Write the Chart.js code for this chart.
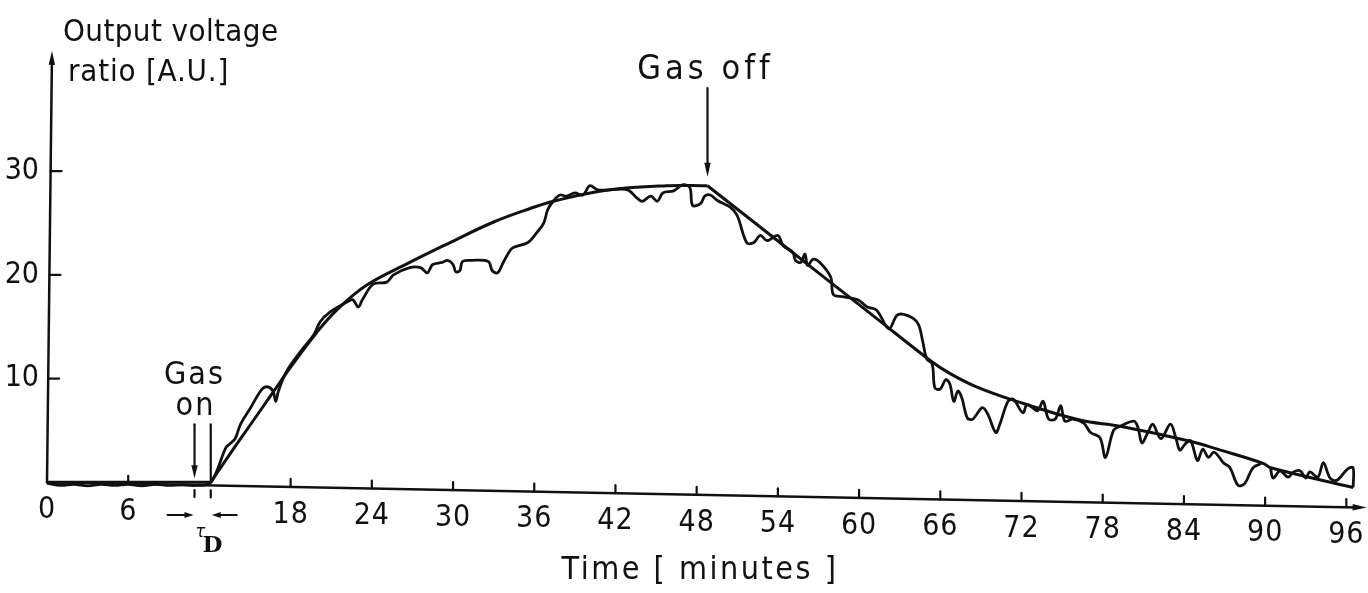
<!DOCTYPE html>
<html>
<head>
<meta charset="utf-8">
<title>Output voltage ratio vs time</title>
<script src="https://cdn.jsdelivr.net/npm/chart.js@4.4.1/dist/chart.umd.min.js"></script>
<style>
  html, body { margin: 0; padding: 0; background: #fff; }
  #wrap { width: 1368px; height: 593px; position: relative; }
</style>
</head>
<body>
<div id="wrap"><canvas id="chart"></canvas></div>
<script>
// time axis ticks (minutes); 12 is left unlabelled for the delay marker
const xTickValues = [0, 6, 18, 24, 30, 36, 42, 48, 54, 60, 66, 72, 78, 84, 90, 96];
const yTickValues = [10, 20, 30];

const GAS_ON_TIME = 10.9;
const RESPONSE_START = 12.1;
const GAS_OFF_TIME = 48.8;

// smooth fitted response
const fitTime = [0, 12.1, 13.5, 15.0, 16.5, 18.0, 19.9, 21.4, 23.6, 26.8, 29.6, 33.0, 35.7, 37.7, 41.6, 45.8, 48.8,
  52.9, 57.0, 61.1, 65.3, 66.7, 68.5, 71.2, 76.3, 79.3, 84.3, 86.7, 89.9, 90.4, 96.5];
const fitValue = [0, 0, 2.7, 5.5, 8.3, 11.1, 14.4, 16.6, 19.0, 21.2, 23.0, 25.1, 26.4, 27.2, 28.2, 28.6, 28.6,
  24.4, 20.2, 16.0, 11.7, 10.5, 9.3, 8.0, 6.0, 5.4, 4.0, 3.1, 1.8, 1.4, -0.5];

// measured trace (null = pen lift)
const traceTime = [0, 1, 2, 3, 4, 5, 6, 7, 8, 9, 10, 11, 12.1,
  13.2, 13.5, 13.9, 14.3, 15.0, 15.9, 16.3, 16.7, 16.9, 17.1, 17.7, 18.9, 19.7, 20.2, 20.9, 22.2, 22.6, 23.0, 23.3, 24.1, 25.1,
  25.6, 26.8, 27.6, 28.1, 28.5, 29.2, 29.6, 30.0, 30.2, 30.5, 30.7, 31.3, 32.6, 32.9, 33.3, 33.6, 34.0, 34.4, 35.5, 36.2, 36.7,
  37.0, 37.4, 37.9, 38.4, 39.0, 39.6, 40.1, 40.7, 41.6, 42.9, 43.6, 44.0, 44.6, 45.1, 45.5, 46.3, 47.0, 47.5, 47.7, 48.3, 48.6,
  49.0, 49.5, 50.5, 51.0, 51.7, 52.2, 52.7, 53.2, 54.0, 54.4, 55.1, 55.3, 55.7, 56.0, 56.2, 56.6, 57.1, 57.9, 58.1, 58.8, 59.9,
  60.6, 61.3, 62.2, 62.8, 63.3, 64.0, 64.4, 64.7, 65.0, 65.4, 65.6, 66.0, 66.4, 66.7, 67.0, 67.3, 67.6, 68.0, 68.4, 69.1, 69.5,
  70.1, 70.4, 71.0, 71.4, 72.1, 72.4, 72.8, 73.2, 73.6, 74.0, 74.5, 74.9, 75.2, 75.8, 76.6, 77.1, 77.8, 78.2, 78.8, 79.3, 80.3,
  80.6, 80.9, 81.3, 81.7, 82.3, 83.0, 83.4, 83.7, 84.1, 84.5, 85.0, 85.4, 85.8, 86.2, 86.5, 86.9, 87.4, 88.0, 88.5, 89.1, 89.7,
  90.0,
  90.4, 90.6, 91.1, 91.7, 92.1, 92.6, 93.0, 93.3, 93.9, 94.3, 94.8, 95.3, 96.1, 96.5, 96.5];
const traceValue = [-0.1, -0.3, -0.2, -0.35, -0.2, -0.3, -0.2, -0.35, -0.2, -0.3, -0.25, -0.3, 0,
  3.3, 3.7, 4.2, 5.6, 7.1, 9.0, 9.2, 8.8, 7.8, 8.8, 10.7, 12.9, 14.2, 15.5, 16.4, 17.4, 17.6, 16.9, 17.6, 19.1, 19.3,
  20.0, 20.7, 20.7, 20.2, 21.0, 21.2, 21.4, 21.0, 20.3, 20.4, 21.3, 21.4, 21.3, 20.4, 20.2, 20.9, 21.9, 22.6, 23.1, 24.1, 25.0,
  26.3, 27.1, 27.7, 27.6, 27.9, 27.7, 28.6, 28.2, 28.2, 28.2, 27.4, 27.1, 27.6, 27.1, 27.9, 28.1, 28.7, 28.4, 26.7, 26.9, 27.6,
  27.7, 27.2, 26.5, 25.7, 23.1, 23.1, 23.8, 23.3, 23.8, 22.8, 22.2, 21.4, 21.2, 22.0, 20.9, 21.5, 21.2, 19.8, 18.1, 17.9, 17.6,
  16.9, 16.6, 14.8, 16.1, 16.2, 15.8, 15.2, 13.6, 11.9, 11.4, 9.1, 9.0, 9.9, 9.5, 7.8, 8.8, 8.1, 6.2, 6.1, 7.2, 6.6,
  4.8, 5.6, 7.8, 8.0, 6.7, 7.5, 7.2, 6.9, 7.8, 6.1, 6.1, 7.4, 5.9, 6.1, 5.7, 4.8, 4.3, 2.4, 5.0, 5.4, 5.9,
  5.3, 3.8, 4.7, 5.6, 4.2, 5.6, 4.3, 3.1, 3.7, 4.0, 2.1, 3.2, 2.4, 2.9, 2.6, 1.9, 1.4, -0.3, -0.1, 1.4, 1.8,
  null,
  1.3, 0.4, 1.1, 0.5, 1.0, 1.1, 0.4, 1.0, 0.5, 1.9, 0.4, 0.2, 1.3, 1.4, -0.5];

const INK = '#111';
const FONT = '"DejaVu Sans Condensed", "DejaVu Sans", sans-serif';
const X_AXIS_DRIFT = -2.4 / 96; // the time axis sinks a little towards the right

function points(times, values) {
  return times.map((t, i) => ({ x: t, y: values[i] }));
}

const fitPoints = points(fitTime, fitValue);
const riseAt = fitTime.indexOf(RESPONSE_START);
const offAt = fitTime.indexOf(GAS_OFF_TIME);

function curve(data, tension, width) {
  return {
    data: data,
    borderColor: INK,
    borderWidth: width,
    pointRadius: 0,
    tension: tension,
    fill: false,
    spanGaps: false,
  };
}

function arrowHead(ctx, tx, ty, angle, len, half) {
  ctx.save();
  ctx.translate(tx, ty);
  ctx.rotate(angle);
  ctx.beginPath();
  ctx.moveTo(0, 0);
  ctx.lineTo(-len, -half);
  ctx.lineTo(-len, half);
  ctx.closePath();
  ctx.fill();
  ctx.restore();
}

function segment(ctx, x1, y1, x2, y2) {
  ctx.beginPath();
  ctx.moveTo(x1, y1);
  ctx.lineTo(x2, y2);
  ctx.stroke();
}

function label(ctx, text, x, y, size, spacing) {
  ctx.font = size + 'px ' + FONT;
  ctx.letterSpacing = (spacing || 0) + 'px';
  ctx.fillText(text, x, y);
  ctx.letterSpacing = '0px';
}

const axesPlugin = {
  id: 'handAxes',
  afterDatasetsDraw(chart) {
    const { ctx, scales: { x, y } } = chart;
    const px = t => x.getPixelForValue(t);
    const py = v => y.getPixelForValue(v);
    const axisAt = t => py(X_AXIS_DRIFT * t);

    ctx.save();
    ctx.strokeStyle = INK;
    ctx.fillStyle = INK;
    ctx.lineWidth = 2.5;
    ctx.lineCap = 'round';

    // time axis with arrow
    const tEnd = x.max - 0.1;
    segment(ctx, px(0), axisAt(0), px(tEnd - 0.7), axisAt(tEnd - 0.7));
    arrowHead(ctx, px(tEnd), axisAt(tEnd), Math.atan2(axisAt(tEnd) - axisAt(0), px(tEnd) - px(0)), 14, 3.2);

    // value axis, leaning slightly to the right, with arrow
    const yTop = 41.6;
    const lean = v => px(0) + 5 * v / yTop;
    segment(ctx, lean(0), py(0), lean(yTop - 1.1), py(yTop - 1.1));
    arrowHead(ctx, lean(yTop), py(yTop), -Math.PI / 2 + 0.012, 14, 3.2);

    ctx.lineWidth = 2.2;
    yTickValues.forEach(v => segment(ctx, lean(v), py(v), lean(v) + 11, py(v)));

    // time ticks and labels
    ctx.textAlign = 'center';
    ctx.textBaseline = 'middle';
    xTickValues.forEach(t => {
      if (t > 0) segment(ctx, px(t), axisAt(t), px(t), axisAt(t) - 8);
      label(ctx, String(t), px(t), axisAt(t) + 28, 30, 1);
    });

    // delay time markers
    const aOn = axisAt(GAS_ON_TIME);
    [GAS_ON_TIME, RESPONSE_START].forEach(t => segment(ctx, px(t), axisAt(t) + 5, px(t), axisAt(t) + 12));
    ctx.lineWidth = 2;
    segment(ctx, px(GAS_ON_TIME) - 27, aOn + 30, px(GAS_ON_TIME) - 8, aOn + 30);
    arrowHead(ctx, px(GAS_ON_TIME) - 1, aOn + 30, 0, 9, 3);
    segment(ctx, px(RESPONSE_START) + 26, aOn + 30, px(RESPONSE_START) + 8, aOn + 30);
    arrowHead(ctx, px(RESPONSE_START) + 1, aOn + 30, Math.PI, 9, 3);
    ctx.textAlign = 'left';
    ctx.textBaseline = 'alphabetic';
    ctx.font = 'italic 18px ' + FONT;
    ctx.fillText('\u03c4', px(GAS_ON_TIME) + 1, aOn + 52);
    ctx.font = 'bold 23px "DejaVu Serif", serif';
    ctx.fillText('D', px(GAS_ON_TIME) + 8, aOn + 67);

    // gas on / gas off annotations
    ctx.lineWidth = 2.2;
    ctx.textAlign = 'center';
    label(ctx, 'Gas', px(GAS_ON_TIME), py(0) - 98, 32, 2);
    label(ctx, 'on', px(GAS_ON_TIME) + 1, py(0) - 67, 32, 2);
    segment(ctx, px(GAS_ON_TIME), py(0) - 58, px(GAS_ON_TIME), py(0) - 14);
    arrowHead(ctx, px(GAS_ON_TIME), py(0) - 4, Math.PI / 2, 13, 3.2);
    segment(ctx, px(RESPONSE_START), py(0) - 58, px(RESPONSE_START), py(0));

    const peak = fitValue[offAt];
    label(ctx, 'Gas off', px(GAS_OFF_TIME) - 2, 79, 34, 4);
    segment(ctx, px(GAS_OFF_TIME), 88, px(GAS_OFF_TIME), py(peak) - 20);
    arrowHead(ctx, px(GAS_OFF_TIME), py(peak) - 9, Math.PI / 2, 14, 3.2);

    // axis titles
    ctx.textAlign = 'left';
    label(ctx, 'Output voltage', 63, 41, 31, 0.4);
    label(ctx, 'ratio [A.U.]', 68, 81, 31, 0.8);
    ctx.textAlign = 'center';
    label(ctx, 'Time [ minutes ]', 700, 579, 32, 2.5);
    ctx.restore();
  }
};

new Chart(document.getElementById('chart'), {
  type: 'line',
  data: {
    datasets: [
      curve(fitPoints.slice(0, riseAt + 1), 0, 3),
      curve(fitPoints.slice(riseAt, offAt + 1), 0.4, 3),
      curve(fitPoints.slice(offAt), 0.4, 3),
      curve(points(traceTime, traceValue), 0.35, 2.8),
    ]
  },
  options: {
    responsive: true,
    maintainAspectRatio: false,
    animation: false,
    layout: { padding: { top: 21.4, bottom: 79.6, left: 0, right: 0 } },
    plugins: { legend: { display: false }, tooltip: { enabled: false } },
    scales: {
      x: { type: 'linear', min: 0, max: 97.6, display: false },
      y: {
        type: 'linear',
        min: -3,
        max: 44,
        afterFit(scale) { scale.width = 47; },
        afterBuildTicks(scale) { scale.ticks = yTickValues.map(v => ({ value: v })); },
        grid: { display: false, drawTicks: false },
        border: { display: false },
        ticks: { color: INK, font: { family: FONT, size: 30 }, padding: 8 },
      }
    }
  },
  plugins: [axesPlugin]
});
</script>
</body>
</html>
